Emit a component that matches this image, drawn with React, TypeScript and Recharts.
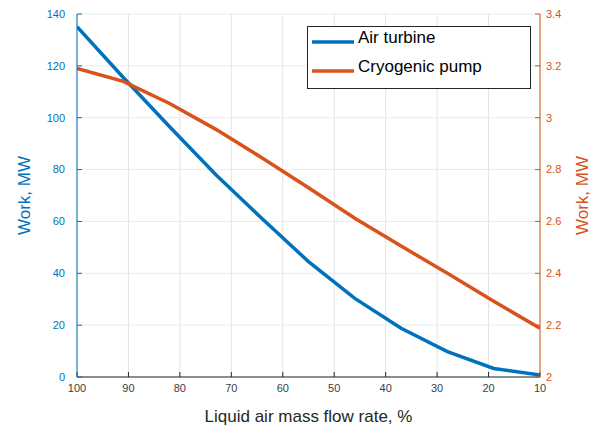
import React from "react";
import {
  LineChart,
  Line,
  XAxis,
  YAxis,
  CartesianGrid,
  Legend,
} from "recharts";

const flowRate = [100, 91, 82, 73, 64, 55, 46, 37, 28, 19, 10];
const turbineWork = [135.1, 115.5, 96.5, 78, 61, 44.5, 30.3, 18.8, 9.8, 3.3, 0.8];
const pumpWork = [3.19, 3.14, 3.055, 2.955, 2.845, 2.73, 2.612, 2.505, 2.4, 2.292, 2.188];

const xTicks = [100, 90, 80, 70, 60, 50, 40, 30, 20, 10];
const leftTicks = [0, 20, 40, 60, 80, 100, 120, 140];
const rightTicks = [2, 2.2, 2.4, 2.6, 2.8, 3, 3.2, 3.4];

const BLUE = "#0072BD";
const ORANGE = "#D95319";
const DARK = "#262626";
const FONT = "'Liberation Sans', Arial, Helvetica, sans-serif";

const rows = flowRate.map((rate, i) => ({
  rate,
  turbine: turbineWork[i],
  pump: pumpWork[i],
}));

function LegendBox({ payload }: any) {
  const items = payload || [];
  return (
    <svg width={224} height={63} style={{ display: "block" }}>
      <rect x={0.5} y={0.5} width={223} height={62} fill="#fff" stroke={DARK} strokeWidth={1} />
      {items.map((item: any, i: number) => (
        <g key={i}>
          <line x1={5} x2={47} y1={16 + i * 29} y2={16 + i * 29} stroke={item.color} strokeWidth={3.5} />
          <text x={51} y={17 + i * 29} fontSize={17} fill="#000" fontFamily={FONT}>
            {item.value}
          </text>
        </g>
      ))}
    </svg>
  );
}

const yLabel = (text: string, color: string, dx: number) => (props: any) => {
  const vb = props.viewBox || {};
  const cx = vb.x + dx;
  const cy = vb.y + vb.height / 2;
  return (
    <text
      x={cx}
      y={cy}
      transform={`rotate(-90, ${cx}, ${cy})`}
      textAnchor="middle"
      dominantBaseline="central"
      fontSize={17}
      fill={color}
      fontFamily={FONT}
    >
      {text}
    </text>
  );
};

const xLabel = (props: any) => {
  const vb = props.viewBox || {};
  return (
    <text
      x={vb.x + vb.width / 2}
      y={vb.y + 44.5}
      textAnchor="middle"
      fontSize={17}
      fill={DARK}
      fontFamily={FONT}
    >
      Liquid air mass flow rate, %
    </text>
  );
};

export default function App() {
  return (
    <div
      style={{
        position: "absolute",
        left: 0,
        top: 0,
        width: 595,
        height: 430,
        background: "#fff",
        fontFamily: FONT,
      }}
    >
      <LineChart
        width={595}
        height={430}
        data={rows}
        margin={{ top: 14, right: 15, bottom: 23, left: 37 }}
      >
        <CartesianGrid yAxisId="left" horizontal={false} stroke="#e3e3e3" />
        <CartesianGrid yAxisId="left" vertical={false} stroke="#e1ecf6" />
        <XAxis
          dataKey="rate"
          type="number"
          domain={[10, 100]}
          allowDataOverflow
          reversed
          ticks={xTicks}
          interval={0}
          tickSize={-5}
          tickMargin={12}
          height={30}
          axisLine={{ stroke: DARK }}
          tickLine={{ stroke: DARK }}
          tick={{ fontSize: 11, fill: "#404040" }}
          label={{ content: xLabel }}
        />
        <XAxis
          xAxisId="top"
          orientation="top"
          dataKey="rate"
          type="number"
          domain={[10, 100]}
          allowDataOverflow
          reversed
          ticks={xTicks}
          interval={0}
          tickSize={-5}
          height={0}
          tickFormatter={() => ""}
          axisLine={{ stroke: DARK }}
          tickLine={{ stroke: DARK }}
        />
        <YAxis
          yAxisId="left"
          type="number"
          domain={[0, 140]}
          allowDataOverflow
          ticks={leftTicks}
          interval={0}
          width={40}
          tickSize={-5}
          tickMargin={17}
          axisLine={{ stroke: BLUE }}
          tickLine={{ stroke: BLUE }}
          tick={{ fontSize: 11, fill: BLUE }}
          label={{ content: yLabel("Work, MW", BLUE, -13) }}
        />
        <YAxis
          yAxisId="right"
          orientation="right"
          type="number"
          domain={[2, 3.4]}
          allowDataOverflow
          ticks={rightTicks}
          interval={0}
          width={40}
          tickSize={-5}
          tickMargin={11}
          axisLine={{ stroke: ORANGE }}
          tickLine={{ stroke: ORANGE }}
          tick={{ fontSize: 11, fill: ORANGE }}
          label={{ content: yLabel("Work, MW", ORANGE, 42) }}
        />
        <Legend
          layout="vertical"
          align="center"
          verticalAlign="middle"
          wrapperStyle={{ left: 307, top: 26, width: 224, height: 63 }}
          content={<LegendBox />}
        />
        <Line
          yAxisId="left"
          name="Air turbine"
          dataKey="turbine"
          type="linear"
          stroke={BLUE}
          strokeWidth={3.5}
          dot={false}
          activeDot={false}
          isAnimationActive={false}
        />
        <Line
          yAxisId="right"
          name="Cryogenic pump"
          dataKey="pump"
          type="linear"
          stroke={ORANGE}
          strokeWidth={3.5}
          dot={false}
          activeDot={false}
          isAnimationActive={false}
        />
      </LineChart>
    </div>
  );
}
